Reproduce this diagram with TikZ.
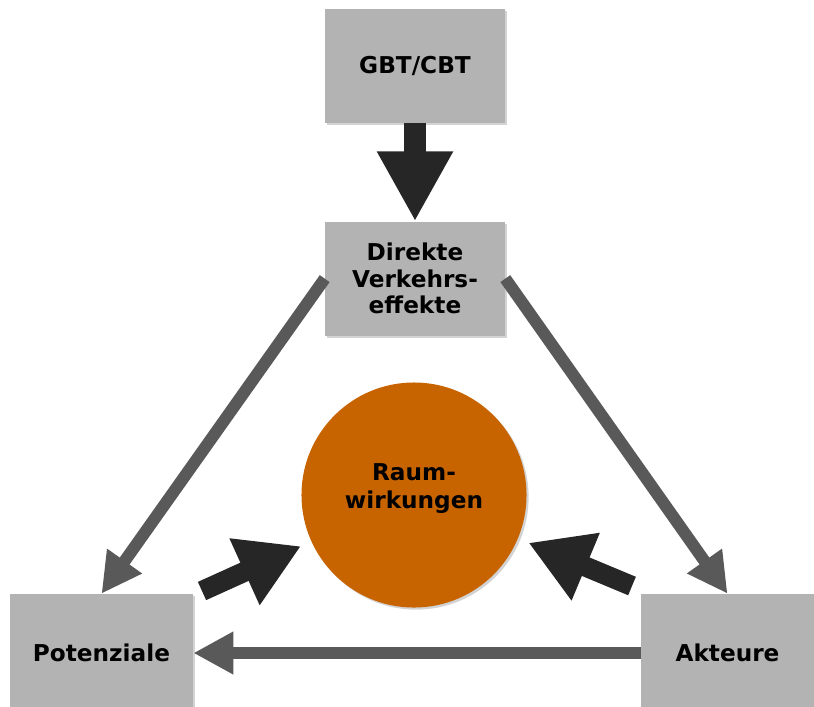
\documentclass[tikz,border=0pt]{standalone}
\usepackage{fontspec}
\setmainfont{DejaVu Sans}
\usetikzlibrary{positioning,arrows.meta,shadows}

\definecolor{boxgray}{RGB}{179,179,179}
\definecolor{arrowgray}{RGB}{89,89,89}
\definecolor{arrowdark}{RGB}{38,38,38}
\definecolor{raumorange}{RGB}{200,100,0}

\begin{document}
\begin{tikzpicture}[x=0.025cm, y=-0.025cm,
	box/.style={rectangle, fill=boxgray, minimum width=4.5cm, minimum height=2.85cm, align=center,
		font=\bfseries\fontsize{16.5}{19}\selectfont,
		drop shadow={shadow xshift=1.5pt, shadow yshift=-1.5pt, opacity=0.35}},
	raumnode/.style={circle, fill=raumorange, minimum size=5.625cm, align=center, text depth=0.45cm,
		font=\bfseries\fontsize{16.5}{19.5}\selectfont,
		drop shadow={shadow xshift=1.5pt, shadow yshift=-1.5pt, opacity=0.35}},
	grayarrow/.style={draw=arrowgray, line width=0.3cm, -{Triangle[length=1cm, width=1cm]}},
	bigarrow/.style={draw=arrowdark, line width=0.55cm, -{Triangle[length=1.75cm, width=1.78cm]}},
	darkarrow/.style={draw=arrowdark, line width=0.5cm, -{Triangle[length=1.55cm, width=1.72cm]}},
	]
	\useasboundingbox (0,0) rectangle (814,706);
	%Nodes
	\node[box]      (gbt)    at (415,66)         {GBT/CBT};
	\node[box]      (direkt) [below=2.45cm of gbt] {Direkte\\Verkehrs-\\effekte};
	\node[box, minimum width=4.575cm, minimum height=2.95cm] (pot) at (101.5,653) {Potenziale};
	\node[box, minimum width=4.3cm, minimum height=2.95cm]   (akt) at (727.5,653) {Akteure};
	\node[raumnode] (raum)   at (414,495)        {Raum-\\wirkungen};
	\coordinate (lt) at (202,591);
	\coordinate (rt) at (632,586);
	
	%Lines
	\draw[bigarrow] (gbt) -- (direkt);
	\draw[grayarrow] (direkt.west) -- (pot.north);
	\draw[grayarrow] (direkt.east) -- (akt.north);
	\draw[grayarrow] (akt.west) -- (pot.east);
	\draw[darkarrow, shorten >=8] (lt) -- (raum);
	\draw[darkarrow, shorten >=8] (rt) -- (raum);
\end{tikzpicture}
\end{document}
